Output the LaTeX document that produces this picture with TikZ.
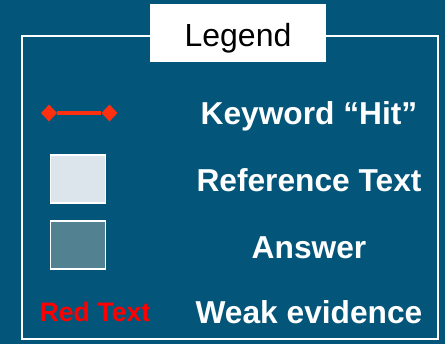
\documentclass[tikz,border=0pt]{standalone}
\usepackage{fontspec}
\setmainfont{Liberation Sans}
\usetikzlibrary{shapes.geometric}

\definecolor{lgBack}{RGB}{3,86,122}
\definecolor{lgHit}{RGB}{255,48,16}
\definecolor{lgRef}{RGB}{220,229,235}
\definecolor{lgAns}{RGB}{82,129,145}

\tikzset{
	lgentry/.style={text=white, font=\fontsize{31.7}{32}\selectfont\bfseries, anchor=base, inner sep=0pt},
	lgswatch/.style={draw=white, line width=1.5pt, inner sep=0pt, minimum width=55pt, minimum height=48pt},
	lgtip/.style={diamond, fill=lgHit, inner sep=0pt, minimum width=16pt, minimum height=17pt}
}

\begin{document}
\begin{tikzpicture}[x=1pt,y=-1pt]
\fill[lgBack] (0,0) rectangle (445,344);
\useasboundingbox (0,0) rectangle (445,344);

\pgfmathsetmacro{\lgTx}{309}
\pgfmathsetmacro{\lgRa}{124.5}
\pgfmathsetmacro{\lgRb}{191.7}
\pgfmathsetmacro{\lgRc}{258.3}
\pgfmathsetmacro{\lgRd}{323.3}

% frame, the title box sits over its top edge
\draw[white, line width=1.8pt] (22,36) rectangle (438,339);
\node[fill=white, minimum width=176pt, minimum height=58pt, inner sep=0pt] (title) at (238,33) {};
\node[anchor=base, inner sep=0pt, font=\fontsize{32}{32}\selectfont] (titletext) at (238,46.7) {Legend};

% keyword hit
\node[lgtip] (hitA) at (49,113) {};
\node[lgtip] (hitB) at (109.5,113) {};
\draw[lgHit, line width=3.5pt] (hitA) -- (hitB);
\node[lgentry] (hit) at (\lgTx,\lgRa) {Keyword “Hit”};

% swatches
\node[lgswatch, fill=lgRef] (refbox) at (78,178.8) {};
\node[lgentry] (ref) at (\lgTx,\lgRb) {Reference Text};
\node[lgswatch, fill=lgAns] (ansbox) at (78,244.9) {};
\node[lgentry] (ans) at (\lgTx,\lgRc) {Answer};

% weak evidence
\node[anchor=base, inner sep=0pt, text=red, font=\fontsize{26.7}{27}\selectfont\bfseries] (redtext) at (95,321.7) {Red Text};
\node[lgentry] (weak) at (\lgTx,\lgRd) {Weak evidence};
\end{tikzpicture}
\end{document}
